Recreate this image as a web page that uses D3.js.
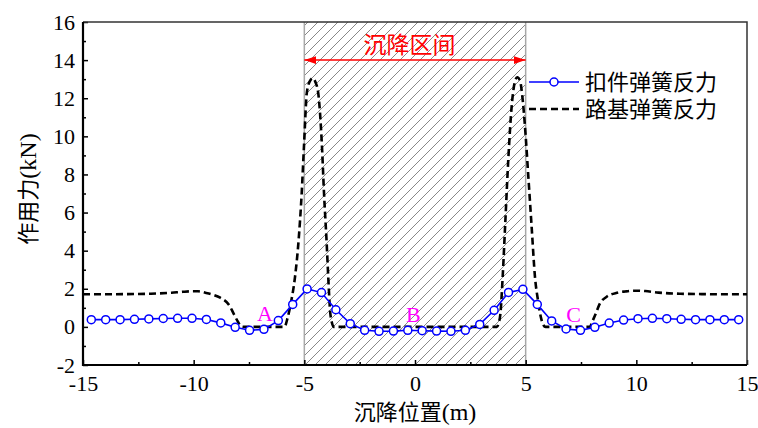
<!DOCTYPE html>
<html>
<head>
<meta charset="utf-8">
<script src="https://cdn.jsdelivr.net/npm/d3@7"></script>
<style>
body { margin:0; background:#fff; }
</style>
</head>
<body>
<svg id="chart" width="758" height="428"></svg>
<script>
//---扣件弹簧反力 (markers every 0.65 m)---
var fastenerX = [-14.625,-13.975,-13.325,-12.675,-12.025,-11.375,-10.725,-10.075,-9.425,-8.775,
  -8.125,-7.475,-6.825,-6.175,-5.525,-4.875,-4.225,-3.575,-2.925,-2.275,
  -1.625,-0.975,-0.325,0.325,0.975,1.625,2.275,2.925,3.575,4.225,
  4.875,5.525,6.175,6.825,7.475,8.125,8.775,9.425,10.075,10.725,
  11.375,12.025,12.675,13.325,13.975,14.625]
var fastenerY = [0.38,0.38,0.38,0.40,0.42,0.44,0.45,0.45,0.39,0.21,
  -0.02,-0.18,-0.13,0.33,1.18,1.99,1.80,0.90,0.17,-0.18,
  -0.23,-0.22,-0.18,-0.20,-0.22,-0.23,-0.18,0.13,0.87,1.81,
  1.97,1.18,0.31,-0.11,-0.18,-0.02,0.20,0.36,0.43,0.45,
  0.43,0.40,0.38,0.38,0.38,0.38]

//---路基弹簧反力---
var subgradeX = [-15,-14,-13,-12,-11,-10.5,-10,-9.8,-9.5,-9.1,-8.8,-8.4,-8.2,-8.0,-7.85,-7.7,
  -5.9,-5.75,-5.6,-5.42,-5.27,-5.12,-5.01,-4.89,-4.75,-4.62,-4.5,-4.37,-4.21,-4.11,-3.99,-3.92,-3.84,-3.75,-3.68,
  3.7,3.78,3.86,3.96,4.07,4.22,4.37,4.5,4.62,4.75,4.84,4.97,5.12,5.27,5.42,5.57,5.67,5.8,5.9,
  7.9,8.02,8.14,8.36,8.66,9.12,9.5,9.9,10.4,11,12,13,14,15]
var subgradeY = [1.71,1.71,1.72,1.74,1.79,1.84,1.87,1.87,1.80,1.68,1.53,1.15,0.71,0.27,0.02,0,
  0,0.5,1.3,2.63,4.38,7.0,9.63,12.25,12.9,13.05,12.85,12.25,9.63,7.0,4.38,2.63,0.89,0.2,0,
  0,0.2,0.7,2.6,5.25,8.9,11.6,12.8,13.1,12.9,12.2,10.5,7.9,5.25,2.63,1.3,0.6,0.1,0,
  0,0.3,0.62,1.24,1.58,1.79,1.86,1.9,1.88,1.8,1.74,1.72,1.71,1.71]

var seriesNames = ["扣件弹簧反力","路基弹簧反力"]
var xTicks = [-15,-10,-5,0,5,10,15]
var xMinor = [-12.5,-7.5,-2.5,2.5,7.5,12.5]
var yTicks = [-2,0,2,4,6,8,10,12,14,16]
var yMinor = [-1,1,3,5,7,9,11,13,15]
var zone = [-5,5]          // 沉降区间
var zoneLabel = "沉降区间"
var zoneArrowY = 14
var pointLabels = ["A","B","C"]
var pointLabelX = [-6.78,-0.07,7.16]
var pointLabelY = [0.3,0.25,0.25]

var SERIF = "'Liberation Serif', 'Times New Roman', serif"
var CJK = "'Noto Sans CJK SC', sans-serif"

function buildChart()
{
var left=83, right=747, top=22, bottom=365

var xScale = d3.scaleLinear().domain([-15,15]).range([left,right])
var yScale = d3.scaleLinear().domain([-2,16]).range([bottom,top])

var svg = d3.select("#chart")

// hatch pattern for the settlement zone
var defs = svg.append("defs")
defs.append("pattern")
    .attr("id","hatch")
    .attr("patternUnits","userSpaceOnUse")
    .attr("width",10).attr("height",10)
  .append("path")
    .attr("d","M-1,1 l2,-2 M0,10 l10,-10 M9,11 l2,-2")
    .attr("stroke","#7a7a7a").attr("stroke-width",0.9)

defs.append("marker")
    .attr("id","arrow")
    .attr("viewBox","0 0 12 8")
    .attr("refX",12).attr("refY",4)
    .attr("markerUnits","userSpaceOnUse")
    .attr("markerWidth",12).attr("markerHeight",8)
    .attr("orient","auto-start-reverse")
  .append("path")
    .attr("d","M0,0 L12,4 L0,8 Z")
    .attr("fill","#ff0000")

defs.append("clipPath").attr("id","plotClip")
  .append("rect")
    .attr("x",left).attr("y",top)
    .attr("width",right-left).attr("height",bottom-top)

// settlement zone
svg.append("rect")
    .attr("x",xScale(zone[0])).attr("y",top)
    .attr("width",xScale(zone[1])-xScale(zone[0]))
    .attr("height",bottom-top)
    .attr("fill","url(#hatch)")
zone.forEach(function(z){
  svg.append("line")
    .attr("x1",xScale(z)).attr("x2",xScale(z))
    .attr("y1",top).attr("y2",bottom)
    .attr("stroke","#a8a8a8").attr("stroke-width",1.5)
})

// zone arrow + label
svg.append("line")
    .attr("x1",xScale(zone[0])).attr("x2",xScale(zone[1]))
    .attr("y1",yScale(zoneArrowY)).attr("y2",yScale(zoneArrowY))
    .attr("stroke","#ff0000").attr("stroke-width",1.5)
    .attr("marker-start","url(#arrow)")
    .attr("marker-end","url(#arrow)")
svg.append("text")
    .attr("x",xScale(-0.25)).attr("y",yScale(zoneArrowY)-7)
    .attr("text-anchor","middle")
    .attr("font-family",CJK)
    .attr("font-size",23)
    .attr("fill","#ff0000")
    .text(zoneLabel)

// axes (ticks inward)
function styleAxis(g) {
  g.attr("font-family",SERIF).attr("font-size",22)
  g.selectAll(".tick line").attr("stroke","#000").attr("stroke-width",1.5)
  g.selectAll(".tick text").attr("fill","#000")
  g.select(".domain").remove()
}
svg.append("g")
    .attr("transform","translate(0,"+bottom+")")
    .call(d3.axisBottom(xScale).tickValues(xTicks).tickSize(-5).tickPadding(10)
        .tickFormat(function(d){ return String(d) }))
    .call(styleAxis)
svg.append("g")
    .attr("transform","translate(0,"+bottom+")")
    .call(d3.axisBottom(xScale).tickValues(xMinor).tickSize(-3).tickFormat(""))
    .call(styleAxis)
svg.append("g")
    .attr("transform","translate("+left+",0)")
    .call(d3.axisLeft(yScale).tickValues(yTicks).tickSize(-5).tickPadding(8)
        .tickFormat(function(d){ return String(d) }))
    .call(styleAxis)
svg.append("g")
    .attr("transform","translate("+left+",0)")
    .call(d3.axisLeft(yScale).tickValues(yMinor).tickSize(-3).tickFormat(""))
    .call(styleAxis)

// frame
svg.append("path")
    .attr("d","M"+left+","+top+" H"+right+" V"+bottom)
    .attr("fill","none").attr("stroke","#333").attr("stroke-width",1.5)
svg.append("path")
    .attr("d","M"+left+","+top+" V"+bottom+" H"+right)
    .attr("fill","none").attr("stroke","#000").attr("stroke-width",2.2)

var plotG = svg.append("g").attr("clip-path","url(#plotClip)")

// 路基弹簧反力 dashed
var subLine = d3.line()
    .x(function(d){ return xScale(d[0]) })
    .y(function(d){ return yScale(d[1]) })
    .curve(d3.curveMonotoneX)
plotG.append("path")
    .datum(d3.zip(subgradeX,subgradeY))
    .attr("fill","none").attr("stroke","#000")
    .attr("stroke-width",2.6).attr("stroke-dasharray","7,4")
    .attr("d",subLine)

// 扣件弹簧反力 with circles
var fastData = d3.zip(fastenerX,fastenerY)
var fastLine = d3.line()
    .x(function(d){ return xScale(d[0]) })
    .y(function(d){ return yScale(d[1]) })
plotG.append("path")
    .datum(fastData)
    .attr("fill","none").attr("stroke","#0000ff").attr("stroke-width",1.6)
    .attr("d",fastLine)
plotG.selectAll("circle.pt")
    .data(fastData).enter().append("circle")
    .attr("class","pt")
    .attr("cx",function(d){ return xScale(d[0]) })
    .attr("cy",function(d){ return yScale(d[1]) })
    .attr("r",4)
    .attr("fill","#fff").attr("stroke","#0000ff").attr("stroke-width",1.5)

// A B C labels
svg.selectAll("text.pl")
    .data(pointLabels).enter().append("text")
    .attr("class","pl")
    .attr("x",function(d,i){ return xScale(pointLabelX[i]) })
    .attr("y",function(d,i){ return yScale(pointLabelY[i]) })
    .attr("text-anchor","middle")
    .attr("font-family",SERIF)
    .attr("font-size",22)
    .attr("fill","#ff00ff")
    .text(function(d){ return d })

// legend
var lgX=529, lgY=82, lgStep=27
var lg = svg.append("g")
lg.append("line")
    .attr("x1",lgX).attr("x2",lgX+50).attr("y1",lgY).attr("y2",lgY)
    .attr("stroke","#0000ff").attr("stroke-width",1.6)
lg.append("circle")
    .attr("cx",lgX+25).attr("cy",lgY).attr("r",4)
    .attr("fill","#fff").attr("stroke","#0000ff").attr("stroke-width",1.5)
lg.append("line")
    .attr("x1",lgX).attr("x2",lgX+50).attr("y1",lgY+lgStep).attr("y2",lgY+lgStep)
    .attr("stroke","#000").attr("stroke-width",2.6).attr("stroke-dasharray","7,4")
lg.selectAll("text")
    .data(seriesNames).enter().append("text")
    .attr("x",lgX+56)
    .attr("y",function(d,i){ return lgY+i*lgStep })
    .attr("dy","0.36em")
    .attr("font-family",CJK)
    .attr("font-size",22)
    .attr("fill","#000")
    .text(function(d){ return d })

// axis titles: Chinese part + unit in serif
var xt = svg.append("text")
    .attr("x",(left+right)/2).attr("y",420)
    .attr("text-anchor","middle")
    .attr("font-size",22)
xt.append("tspan").attr("font-family",CJK).text("沉降位置")
xt.append("tspan").attr("font-family",SERIF).attr("font-size",24).text("(m)")

var yt = svg.append("text")
    .attr("transform","translate(36,189) rotate(-90)")
    .attr("text-anchor","middle")
    .attr("font-size",22)
yt.append("tspan").attr("font-family",CJK).text("作用力")
yt.append("tspan").attr("font-family",SERIF).attr("font-size",24).text("(kN)")
}

buildChart()
</script>
</body>
</html>
